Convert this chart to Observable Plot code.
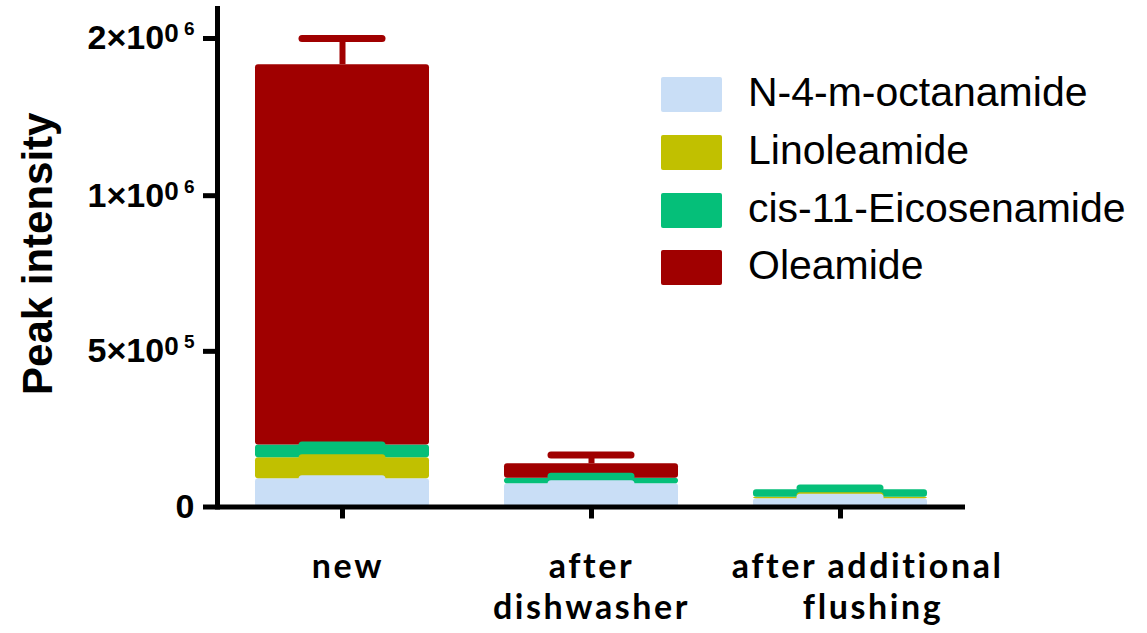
<!DOCTYPE html>
<html>
<head>
<meta charset="utf-8">
<script src="https://cdn.jsdelivr.net/npm/d3@7"></script>
<script src="https://cdn.jsdelivr.net/npm/@observablehq/plot@0.6"></script>
<style>
  html, body { margin: 0; padding: 0; background: #fff; }
  #wrap { position: relative; width: 1147px; height: 633px; }
  .leg-row { position: absolute; left: 661px; height: 35px; display: flex; align-items: center; }
  .leg-sw { width: 61px; height: 35px; border-radius: 2px; }
  .leg-tx { position: absolute; left: 87px; top: -2px; line-height: 35px; font-family: "Liberation Sans", Arial, sans-serif; font-size: 41px; color: #000; white-space: nowrap; }
</style>
</head>
<body>
<div id="wrap"></div>
<script>
// ---- data ----
const categories = ["new", "after dishwasher", "after additional flushing"];
const categoryLabels = ["\u00a0new", "after\ndishwasher", "\u00a0\u00a0\u00a0\u00a0\u00a0after additional\n\u00a0\u00a0\u00a0\u00a0\u00a0\u00a0flushing"];
const series = ["N-4-m-octanamide", "Linoleamide", "cis-11-Eicosenamide", "Oleamide"];
const seriesColors = ["#c9def6", "#c1c000", "#05bf79", "#a00000"];
// mean values per series (new, after dishwasher, after additional flushing)
const octanamide   = [90500, 74500, 26300];
const linoleamide  = [67500, 0, 5200];
const eicosenamide = [41500, 18000, 23700];
const oleamide     = [1634000, 46300, 0];
// error (SD) per series
const octanamideErr   = [0, 0, 4800];
const linoleamideErr  = [0, 0, 4800];
const eicosenamideErr = [0, 6000, 5800];
const oleamideErr     = [166000, 28000, 0];
// y axis: two-segment axis (0–1×10^6 and 1×10^6–2×10^6 drawn at different scales)
const ySegmentBreaks = [0, 1000000, 2191000];
const yTicks = [0, 500000, 1000000, 2000000];
const yTickMantissa = ["0", "5", "1", "2"];
const yTickExponent = ["", "5", "6", "6"];
const yTitle = "Peak intensity";

// ---- build tables ----
const values = [octanamide, linoleamide, eicosenamide, oleamide];
const errors = [octanamideErr, linoleamideErr, eicosenamideErr, oleamideErr];
const table = [];
series.forEach((s, si) => categories.forEach((c, ci) => table.push({cat: c, series: s, value: values[si][ci]})));
const errTable = [];
categories.forEach((c, ci) => {
  let cum = 0;
  series.forEach((s, si) => {
    cum += values[si][ci];
    if (values[si][ci] > 0) errTable.push({cat: c, series: s, si, top: cum, hi: cum + errors[si][ci]});
  });
});
errTable.sort((a, b) => b.si - a.si);

const labelOf = new Map(categories.map((c, i) => [c, categoryLabels[i]]));
const tickText = new Map(yTicks.map((t, i) => [t, yTickExponent[i] ? `${yTickMantissa[i]}×10^${yTickExponent[i]}` : yTickMantissa[i]]));

const W = 1147, H = 633, mT = 8, mB = 126.5;
const yBottom = H - mB;
const chart = Plot.plot({
  width: W,
  height: H,
  marginLeft: 217,
  marginRight: 182,
  marginTop: mT,
  marginBottom: mB,
  style: {background: "#fff", overflow: "visible"},
  x: {domain: categories, paddingInner: 0.3, paddingOuter: 0.15, axis: null},
  y: {type: "linear", domain: ySegmentBreaks, range: [yBottom, yBottom - (yBottom - mT) * 0.6245, mT], axis: null},
  color: {domain: series, range: seriesColors},
  marks: [
    Plot.barY(table, {x: "cat", y: "value", fill: "series", rx: 3}),
    Plot.ruleX(errTable, {x: "cat", y1: "top", y2: "hi", stroke: "series", strokeWidth: 6}),
    Plot.tickY(errTable, {x: "cat", y: "hi", stroke: "series", strokeWidth: 7, strokeLinecap: "round", insetLeft: 47, insetRight: 47}),
    Plot.ruleY([0], {stroke: "#000", strokeWidth: 5}),
    Plot.frame({anchor: "left", stroke: "#000", strokeWidth: 5}),
    Plot.axisY({
      ticks: yTicks, tickSize: 14, tickPadding: 9, strokeWidth: 5, stroke: "#000",
      tickFormat: (d) => tickText.get(d), label: null,
      fontSize: 34, fontWeight: "bold", fontFamily: "Liberation Sans, Arial, sans-serif", fill: "#000"
    }),
    Plot.axisX({
      tickSize: 12, tickPadding: 30, strokeWidth: 5, stroke: "#000",
      tickFormat: (d) => labelOf.get(d), label: null, lineHeight: 1.21,
      fontSize: 34, fontWeight: "bold", fontFamily: "Lato, Open Sans, sans-serif", fill: "#000"
    }),
    Plot.text([yTitle], {
      frameAnchor: "left", dx: -179, dy: -4, rotate: -90, textAnchor: "middle", lineAnchor: "middle",
      fontSize: 42, fontWeight: "bold", fontFamily: "Liberation Sans, Arial, sans-serif", fill: "#000"
    })
  ]
});

d3.select(chart).selectAll('g[aria-label="x-axis tick label"] text').style("letter-spacing", "2.6px");

d3.select(chart).selectAll('g[aria-label="y-axis tick label"] text').each(function () {
  const t = this.textContent;
  const m = /^(\d)×10\^(\d)$/.exec(t);
  if (!m) return;
  const sel = d3.select(this);
  sel.text(null);
  sel.append("tspan").text(m[1]);
  sel.append("tspan").text("×");
  sel.append("tspan").text("10");
  sel.append("tspan").attr("font-size", 26).attr("dy", "-7").text("0");
  sel.append("tspan").attr("font-size", 19).attr("dy", "-7").text("\u00a0" + m[2]);
});

const wrap = document.getElementById("wrap");
wrap.appendChild(chart);

series.forEach((s, i) => {
  const row = document.createElement("div");
  row.className = "leg-row";
  row.style.top = (77 + i * 57.8) + "px";
  const sw = document.createElement("div");
  sw.className = "leg-sw";
  sw.style.background = seriesColors[i];
  const tx = document.createElement("div");
  tx.className = "leg-tx";
  tx.textContent = s;
  row.appendChild(sw);
  row.appendChild(tx);
  wrap.appendChild(row);
});
</script>
</body>
</html>
